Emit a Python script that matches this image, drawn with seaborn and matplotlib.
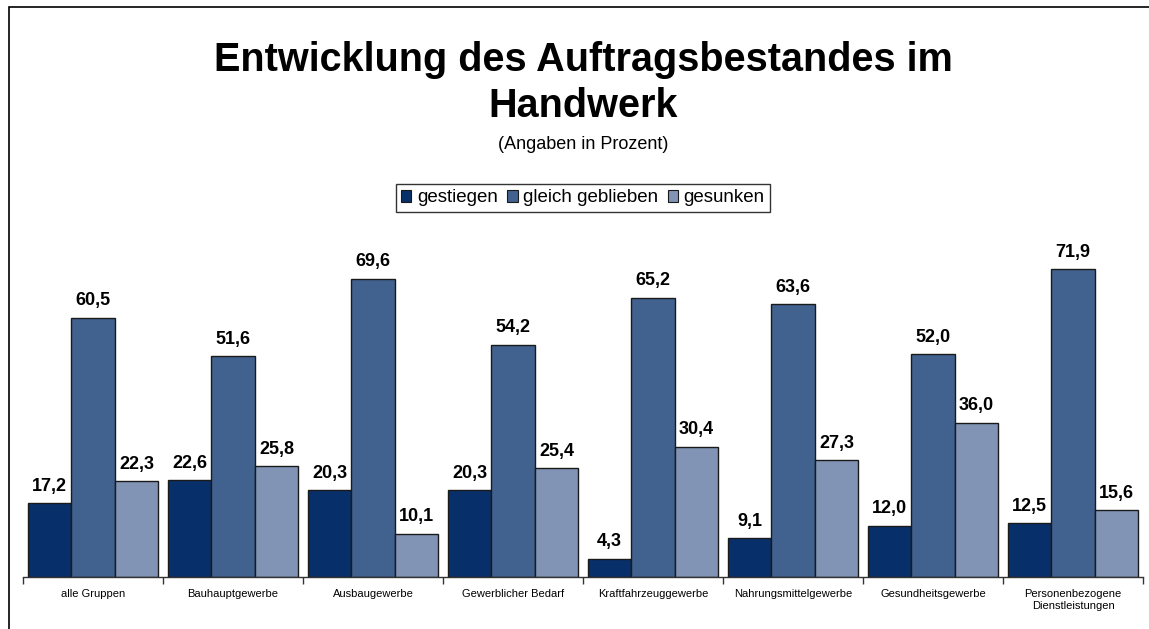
import matplotlib
matplotlib.use("Agg")
import matplotlib.pyplot as plt
import seaborn as sns
import pandas as pd
from matplotlib.patches import Rectangle
from matplotlib.ticker import FixedLocator

categories = ["alle Gruppen", "Bauhauptgewerbe", "Ausbaugewerbe", "Gewerblicher Bedarf",
              "Kraftfahrzeuggewerbe", "Nahrungsmittelgewerbe", "Gesundheitsgewerbe",
              "Personenbezogene\nDienstleistungen"]
series_names = ["gestiegen", "gleich geblieben", "gesunken"]
gestiegen = [17.2, 22.6, 20.3, 20.3, 4.3, 9.1, 12.0, 12.5]
gleich = [60.5, 51.6, 69.6, 54.2, 65.2, 63.6, 52.0, 71.9]
gesunken = [22.3, 25.8, 10.1, 25.4, 30.4, 27.3, 36.0, 15.6]
colors = ["#07306b", "#41628f", "#8194b5"]

rows = []
for name, vals in zip(series_names, [gestiegen, gleich, gesunken]):
    for c, v in zip(categories, vals):
        rows.append({"Kategorie": c, "Serie": name, "Wert": v})
df = pd.DataFrame(rows)

sns.set_theme(style="white")
plt.rcParams["font.family"] = ["Liberation Sans", "DejaVu Sans"]
plt.rcParams["text.color"] = "#000000"
plt.rcParams["xtick.color"] = "#000000"
plt.rcParams["xtick.labelcolor"] = "#000000"

fig = plt.figure(figsize=(11.49, 6.29), dpi=100)
ax = fig.add_axes([0.02, 0.0827, 0.9748, 0.545])

sns.barplot(data=df, x="Kategorie", y="Wert", hue="Serie", order=categories,
            hue_order=series_names, palette=colors, width=0.933, ax=ax,
            edgecolor="#1a1a1a", linewidth=1.0, saturation=1, errorbar=None)

ax.set_ylim(0, 80)
ax.set_xlim(-0.5, len(categories) - 0.5)
for cont in ax.containers:
    labels = [f"{v:.1f}".replace(".", ",") for v in cont.datavalues]
    ax.bar_label(cont, labels=labels, padding=6, fontsize=13, fontweight="bold",
                 color="#000000")

for s in ["top", "right", "left"]:
    ax.spines[s].set_visible(False)
ax.spines["bottom"].set_color("#333333")
ax.spines["bottom"].set_linewidth(1.0)
ax.set_yticks([])
ax.set_xlabel("")
ax.set_ylabel("")
ax.tick_params(axis="x", which="major", length=0, labelsize=8, pad=9, labelcolor="#000000")
ax.xaxis.set_minor_locator(FixedLocator([i - 0.5 for i in range(len(categories) + 1)]))
ax.tick_params(axis="x", which="minor", length=5, width=1, color="#333333", bottom=True)

leg = ax.legend(loc="center", bbox_to_anchor=(583 / 1149, 1 - 198 / 629),
                bbox_transform=fig.transFigure, ncol=3, frameon=True, fancybox=False,
                edgecolor="#000000", fontsize=13.5, handlelength=0.55, handleheight=0.55,
                handletextpad=0.3, columnspacing=0.5, borderpad=0.3)
leg.get_frame().set_linewidth(1.0)
for t in leg.get_texts():
    t.set_color("#000000")
for h in leg.legend_handles:
    h.set_edgecolor("#1a1a1a")
    h.set_linewidth(0.8)

fig.text(583 / 1149, 1 - 60 / 629, "Entwicklung des Auftragsbestandes im", ha="center",
         va="center", fontsize=28.5, fontweight="bold", color="#000000")
fig.text(583 / 1149, 1 - 106 / 629, "Handwerk", ha="center", va="center",
         fontsize=28.5, fontweight="bold", color="#000000")
fig.text(583 / 1149, 1 - 145 / 629, "(Angaben in Prozent)", ha="center", va="center",
         fontsize=13, color="#000000")

fig.patches.append(Rectangle((8.5 / 1149, -0.1), 1.2, 1 - 6.5 / 629 + 0.1,
                             transform=fig.transFigure, fill=False,
                             edgecolor="#000000", linewidth=1.2))

fig.savefig("out.png", dpi=100)
